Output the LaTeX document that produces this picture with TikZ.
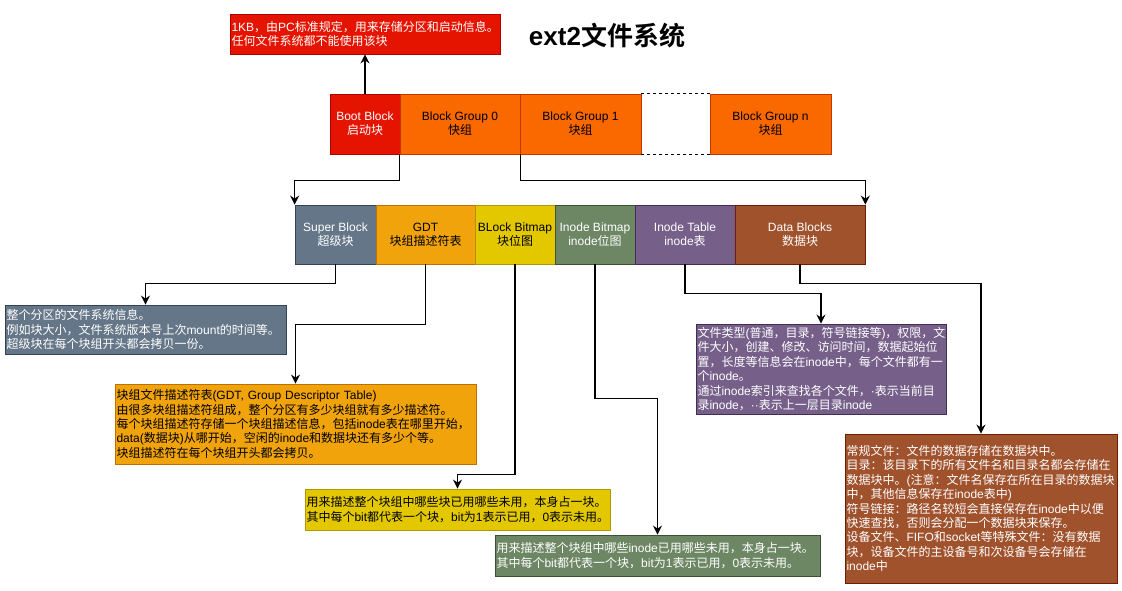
\documentclass[tikz,border=0pt]{standalone}
\usepackage{fontspec}
\usetikzlibrary{arrows.meta}
\setmainfont{Liberation Sans}
\newfontfamily\cjkfont{Noto Sans CJK SC}[BoldFont={Noto Sans CJK SC Bold}]
\XeTeXinterchartokenstate=1
\newXeTeXintercharclass\cjkcls
\newcount\mycnt
\def\setcjkrange#1#2{\mycnt=#1\relax\loop\XeTeXcharclass\mycnt=\cjkcls\relax\ifnum\mycnt<#2\relax\advance\mycnt by 1\relax\repeat}
\setcjkrange{"4E00}{"9FFF}
\setcjkrange{"3000}{"303F}
\setcjkrange{"FF00}{"FFEF}
\XeTeXinterchartoks 0 \cjkcls = {\cjkfont}
\XeTeXinterchartoks 4095 \cjkcls = {\cjkfont}
\XeTeXinterchartoks \cjkcls 0 = {\rmfamily}
\XeTeXinterchartoks \cjkcls 4095 = {\rmfamily}
\definecolor{redF}{HTML}{E51400}\definecolor{redS}{HTML}{B20000}
\definecolor{orF}{HTML}{FA6800}\definecolor{orS}{HTML}{C73500}
\definecolor{slF}{HTML}{647687}\definecolor{slS}{HTML}{314354}
\definecolor{amF}{HTML}{F0A30A}\definecolor{amS}{HTML}{BD7000}
\definecolor{yeF}{HTML}{E3C800}\definecolor{yeS}{HTML}{B09500}
\definecolor{olF}{HTML}{6D8764}\definecolor{olS}{HTML}{3A5431}
\definecolor{vuF}{HTML}{76608A}\definecolor{vuS}{HTML}{432D57}
\definecolor{brF}{HTML}{A0522D}\definecolor{brS}{HTML}{6D1F00}
\begin{document}
\begin{tikzpicture}[x=1pt,y=-1pt,
  blk/.style={draw, line width=0.8pt, inner sep=0pt, align=center,
    font=\fontsize{12}{14}\selectfont},
  toprow/.style={blk, minimum height=60pt},
  botrow/.style={blk, minimum height=59pt},
  note/.style={draw, line width=0.8pt, inner xsep=1.5pt, inner ysep=0pt, align=left,
    font=\fontsize{12}{14.4}\selectfont},
  arr/.style={line width=1.4pt, -{Stealth[length=9pt,width=9pt,inset=3pt]}}]
\useasboundingbox (0,0) rectangle (1122,591);

\node[font=\fontsize{26}{30}\selectfont\bfseries] (title) at (607,36) {ext2文件系统};

% top row
\node[toprow, fill=redF, draw=redS, text=white, minimum width=70pt] (boot) at (365,124) {Boot Block\\启动块};
\node[toprow, fill=orF, draw=orS, minimum width=120pt] (bg0) at (460,124) {Block Group 0\\快组};
\node[toprow, fill=orF, draw=orS, minimum width=121pt] (bg1) at (580.5,124) {Block Group 1\\块组};
\node[toprow, fill=orF, draw=orS, minimum width=121pt] (bgn) at (770.5,124) {Block Group n\\块组};
\draw[dashed, line width=0.8pt] (bg1.north east) -- (bgn.north west);
\draw[dashed, line width=0.8pt] (bg1.south east) -- (bgn.south west);

% second row
\node[botrow, fill=slF, draw=slS, text=white, minimum width=81pt] (sb) at (335.5,234.5) {Super Block\\超级块};
\node[botrow, fill=amF, draw=amS, minimum width=99pt] (gdt) at (425.5,234.5) {GDT\\块组描述符表};
\node[botrow, fill=yeF, draw=yeS, minimum width=80pt] (bb) at (515,234.5) {BLock Bitmap\\块位图};
\node[botrow, fill=olF, draw=olS, text=white, minimum width=80pt] (ib) at (595,234.5) {Inode Bitmap\\inode位图};
\node[botrow, fill=vuF, draw=vuS, text=white, minimum width=100pt] (it) at (685,234.5) {Inode Table\\inode表};
\node[botrow, fill=brF, draw=brS, text=white, minimum width=130pt] (dbk) at (800,234.5) {Data Blocks\\数据块};

% notes
\node[note, fill=redF, draw=redS, text=white, minimum width=270pt, minimum height=40pt, text width=267pt] (bootnote) at (365,34)
 {1KB，由PC标准规定，用来存储分区和启动信息。\\任何文件系统都不能使用该块};
\node[note, fill=slF, draw=slS, text=white, minimum width=281pt, minimum height=49pt, text width=278pt] (sbnote) at (145.5,329.5)
 {整个分区的文件系统信息。\\例如块大小，文件系统版本号上次mount的时间等。\\超级块在每个块组开头都会拷贝一份。};
\node[note, fill=amF, draw=amS, minimum width=361pt, minimum height=80pt, text width=358pt] (gdtnote) at (295.5,424)
 {块组文件描述符表(GDT, Group Descriptor Table)\\由很多块组描述符组成，整个分区有多少块组就有多少描述符。\\每个块组描述符存储一个块组描述信息，包括inode表在哪里开始，\\data(数据块)从哪开始，空闲的inode和数据块还有多少个等。\\块组描述符在每个块组开头都会拷贝。};
\node[note, fill=yeF, draw=yeS, minimum width=305pt, minimum height=41pt, text width=302pt] (bbnote) at (457.5,509.5)
 {用来描述整个块组中哪些块已用哪些未用，本身占一块。\\其中每个bit都代表一个块，bit为1表示已用，0表示未用。};
\node[note, fill=olF, draw=olS, text=white, minimum width=325pt, minimum height=41pt, text width=322pt] (ibnote) at (657.5,555.5)
 {用来描述整个块组中哪些inode已用哪些未用，本身占一块。\\其中每个bit都代表一个块，bit为1表示已用，0表示未用。};
\node[note, fill=vuF, draw=vuS, text=white, minimum width=250pt, minimum height=90pt, text width=247pt] (itnote) at (821,369)
 {文件类型(普通，目录，符号链接等)，权限，文\\件大小，创建、修改、访问时间，数据起始位\\置，长度等信息会在inode中，每个文件都有一\\个inode。\\通过inode索引来查找各个文件，·表示当前目\\录inode，··表示上一层目录inode};
\node[note, fill=brF, draw=brS, text=white, minimum width=272pt, minimum height=149pt, text width=269pt] (dbnote) at (981,508.5)
 {常规文件：文件的数据存储在数据块中。\\目录：该目录下的所有文件名和目录名都会存储在\\数据块中。(注意：文件名保存在所在目录的数据块\\中，其他信息保存在inode表中)\\符号链接：路径名较短会直接保存在inode中以便\\快速查找，否则会分配一个数据块来保存。\\设备文件、FIFO和socket等特殊文件：没有数据\\块，设备文件的主设备号和次设备号会存储在\\inode中};

% connectors
\draw[arr] (boot.north) -- (bootnote.south);
\draw[arr] (bg0.south west) -- ++(0,26) -| (sb.north west);
\draw[arr] (bg0.south east) -- ++(0,26) -| (dbk.north east);
\draw[arr] (sb.south) -- ++(0,19) -| (sbnote.north);
\draw[arr] (gdt.south) -- ++(0,60) -| (gdtnote.north);
\draw[arr] (bb.south) -- ++(0,210) -| (bbnote.north);
\draw[arr] (ib.south) -- ++(0,134) -| (ibnote.north);
\draw[arr] (it.south) -- ++(0,29) -| (itnote.north);
\draw[arr] (dbk.south) -- ++(0,19) -| (dbnote.north);
\end{tikzpicture}
\end{document}
